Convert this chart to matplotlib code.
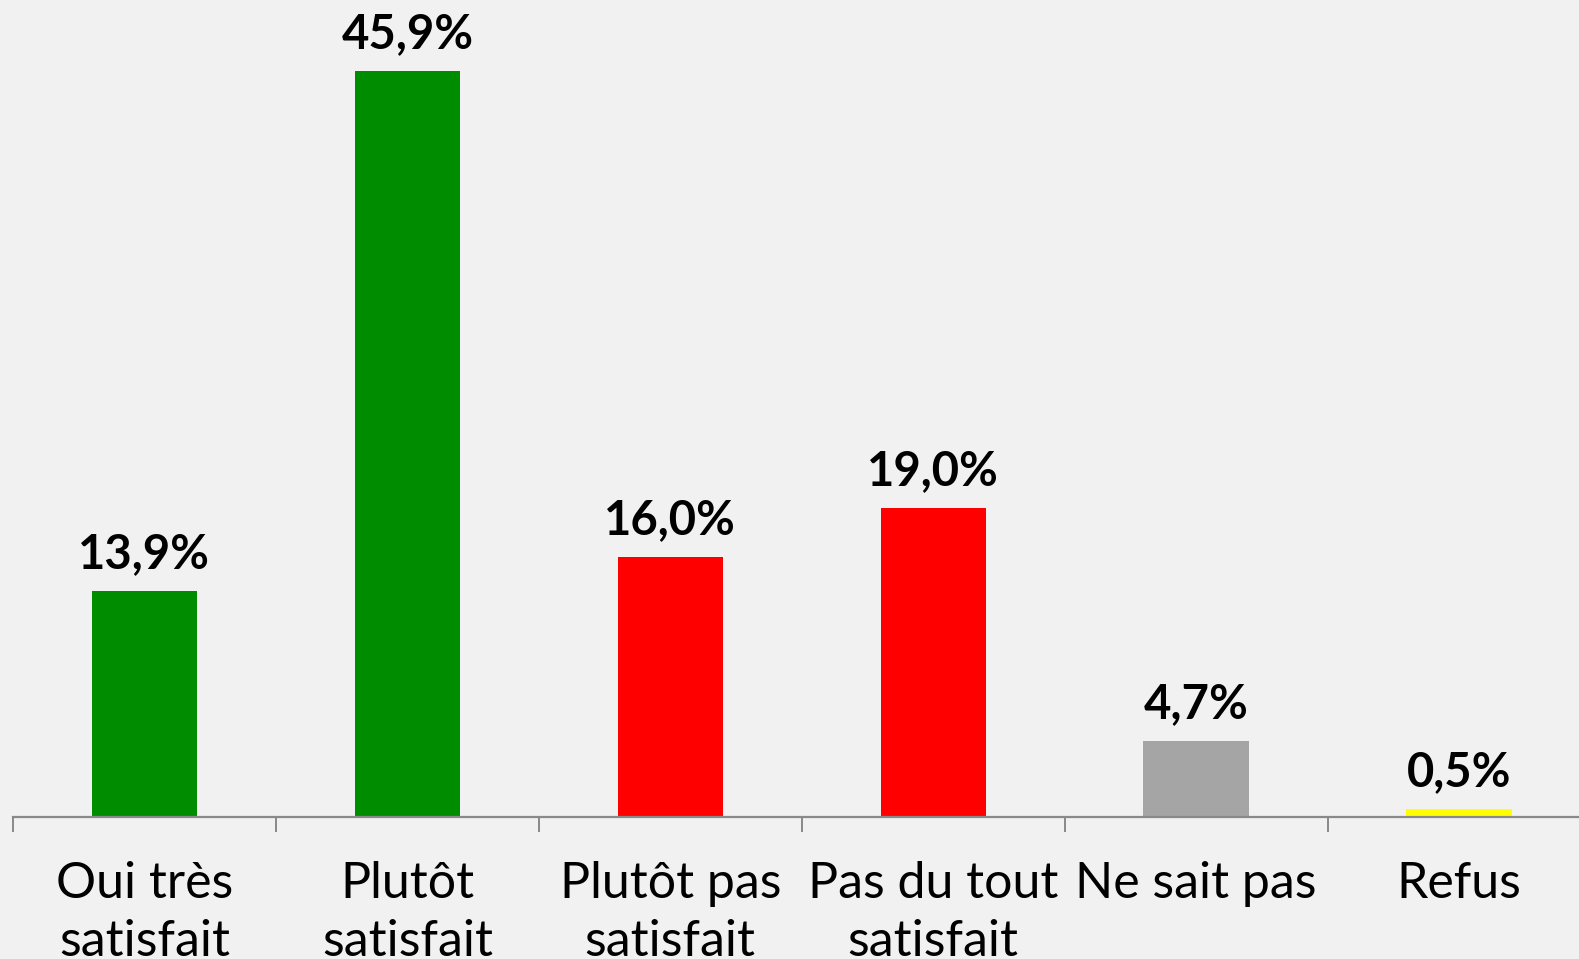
import matplotlib
matplotlib.use("Agg")
import matplotlib.pyplot as plt
import numpy as np

categories = ["Oui très\nsatisfait", "Plutôt\nsatisfait", "Plutôt pas\nsatisfait",
              "Pas du tout\nsatisfait", "Ne sait pas", "Refus"]
values = [13.9, 45.9, 16.0, 19.0, 4.7, 0.5]
value_labels = ["13,9%", "45,9%", "16,0%", "19,0%", "4,7%", "0,5%"]
colors = ["#008c00", "#008c00", "#ff0000", "#ff0000", "#a5a5a5", "#ffff00"]

W, H = 1579, 959
fig = plt.figure(figsize=(W / 100, H / 100), dpi=100)
bg = "#f1f1f1"
fig.patch.set_facecolor(bg)

ax_left = 13 / W
ax_bottom = (H - 817) / H
ax_width = (6 * 262.9) / W
ax_height = 817 / H
ax = fig.add_axes([ax_left, ax_bottom, ax_width, ax_height])
ax.set_facecolor(bg)

x = np.arange(len(categories))
ax.bar(x, values, width=0.4, color=colors, zorder=2)

for xi, v, lab in zip(x, values, value_labels):
    ax.annotate(lab, (xi, v), xytext=(0, 16.5), textcoords="offset points",
                ha="center", va="baseline", fontsize=34, fontweight="bold",
                family=["Lato", "DejaVu Sans"], color="black")

ax.set_xlim(-0.5, 5.5)
ax.set_ylim(0, 50.24)

for s in ["top", "right", "left"]:
    ax.spines[s].set_visible(False)
ax.spines["bottom"].set_color("#898989")
ax.spines["bottom"].set_linewidth(1.6)
ax.yaxis.set_visible(False)

ax.set_xticks(np.arange(-0.5, 6.0, 1.0))
ax.set_xticklabels([])
ax.tick_params(axis="x", which="major", length=11, width=1.4, color="#898989")
ax.set_xticks(x, minor=True)
ax.set_xticklabels(categories, minor=True, fontsize=36,
                   family=["Lato", "DejaVu Sans"], linespacing=1.32)
ax.tick_params(axis="x", which="minor", length=0, pad=32, labelcolor="black")

fig.savefig("out.png", dpi=100, facecolor=bg)
